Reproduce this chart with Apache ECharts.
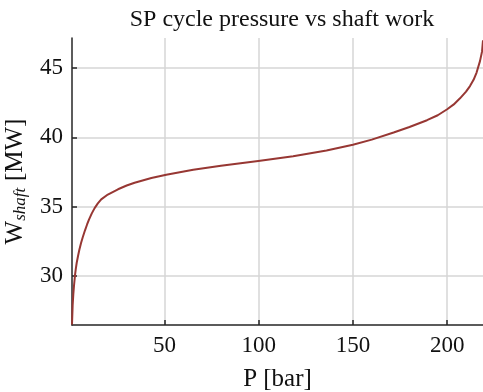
<!DOCTYPE html>
<html>
<head>
<meta charset="utf-8">
<script src="https://cdn.jsdelivr.net/npm/echarts@6/dist/echarts.min.js"></script>
<style>
  html, body { margin: 0; padding: 0; background: #fff; }
  #chart { width: 483px; height: 392px; }
</style>
</head>
<body>
<div id="chart"></div>
<script>
// Cycle pressure (bar) and the matching shaft work (MW)
const pressure = [1, 1.35, 1.7, 2.06, 2.6, 3.0, 3.5, 4.2, 4.9, 5.8, 6.7, 7.9, 9, 10, 11.5, 13, 14.7, 16.5,
  20, 25.4, 30, 34.2, 43.1, 51, 65.3, 80, 99.8, 118.3, 136, 150, 160, 171.6, 180, 189.3, 195, 200,
  203.5, 206.8, 210, 212.1, 214, 215.6, 217.4, 218.5, 219];
const shaftWork = [26.5, 27.9, 28.7, 29.3, 30.06, 30.5, 30.96, 31.45, 31.9, 32.38, 32.8, 33.3, 33.72, 34.07, 34.52, 34.9, 35.24, 35.53,
  35.88, 36.26, 36.53, 36.73, 37.07, 37.31, 37.67, 37.96, 38.3, 38.64, 39.05, 39.47, 39.84, 40.35, 40.75, 41.24, 41.6, 42.03,
  42.38, 42.82, 43.3, 43.7, 44.15, 44.68, 45.5, 46.2, 47.0];

const xTicks = [50, 100, 150, 200];
const yTicks = [30, 35, 40, 45];

const serif = '"Liberation Serif", "DejaVu Serif", serif';
const axisColor = '#262626';
const gridColor = '#d6d6d6';

const chart = echarts.init(document.getElementById('chart'), null, { renderer: 'canvas' });

chart.setOption({
  animation: false,
  backgroundColor: '#ffffff',
  title: {
    text: 'SP cycle pressure vs shaft work',
    left: 277,
    textAlign: 'center',
    top: 3,
    textStyle: { fontFamily: serif, fontSize: 24, fontWeight: 'normal', color: '#111' }
  },
  grid: { left: 72, right: 0, top: 38, bottom: 67, containLabel: false, outerBoundsMode: 'none' },
  xAxis: {
    type: 'value',
    min: 1,
    max: 219,
    name: 'P [bar]',
    nameLocation: 'middle',
    nameGap: 42,
    nameTextStyle: { fontFamily: serif, fontSize: 25, color: '#111' },
    axisLine: { show: true, onZero: false, lineStyle: { color: axisColor, width: 1.5 } },
    axisTick: { show: true, inside: true, length: 5, customValues: xTicks, lineStyle: { color: axisColor, width: 1.5 } },
    axisLabel: { customValues: xTicks, fontFamily: serif, fontSize: 23, color: '#111', margin: 9 },
    splitLine: { show: true, lineStyle: { color: gridColor, width: 1.5 } }
  },
  yAxis: {
    type: 'value',
    min: 26.47,
    max: 47.17,
    name: '{w|W}{s|shaft}  {w|[MW]}',
    nameLocation: 'middle',
    nameRotate: 90,
    nameGap: 36,
    nameTextStyle: {
      color: '#111',
      rich: {
        w: { fontFamily: serif, fontSize: 25, color: '#111', lineHeight: 28 },
        s: { fontFamily: serif, fontSize: 17, fontStyle: 'italic', color: '#111', lineHeight: 17, verticalAlign: 'bottom' }
      }
    },
    axisLine: { show: true, onZero: false, lineStyle: { color: axisColor, width: 1.5 } },
    axisTick: { show: true, inside: true, length: 5, customValues: yTicks, lineStyle: { color: axisColor, width: 1.5 } },
    axisLabel: { customValues: yTicks, fontFamily: serif, fontSize: 23, color: '#111', margin: 9 },
    splitLine: { show: true, lineStyle: { color: gridColor, width: 1.5 } }
  },
  series: [{
    type: 'line',
    data: pressure.map((p, i) => [p, shaftWork[i]]),
    showSymbol: false,
    smooth: false,
    clip: false,
    lineStyle: { color: '#973733', width: 2, join: 'round' }
  }]
});
</script>
</body>
</html>
